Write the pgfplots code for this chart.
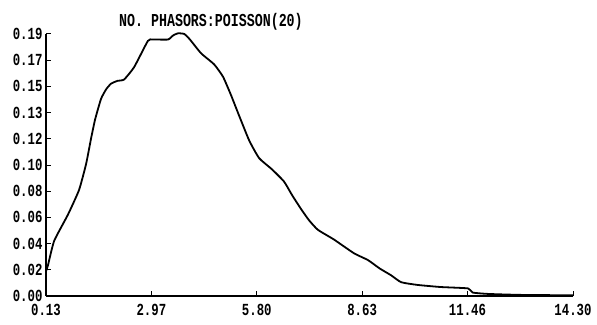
\documentclass[border=0pt]{standalone}
\usepackage{graphicx}
\usepackage{pgfplots}
\pgfplotsset{compat=1.18}
\usepackage{fontspec}
\setmainfont{Liberation Mono}
\newcommand\sq[1]{\scalebox{0.95}[1.3]{#1}}
\begin{document}
\begin{tikzpicture}
\begin{axis}[
  at={(0,0)}, anchor=south west,
  scale only axis, width=527bp, height=262bp,
  xmin=0.13, xmax=14.30, ymin=0, ymax=0.19,
  axis x line=bottom, axis y line=left,
  axis line style={-, line width=1.3bp},
  xtick={0.13,2.9633,5.7967,8.63,11.4633,14.30},
  xticklabels={\sq{0.13},\sq{2.97},\sq{5.80},\sq{8.63},\sq{11.46},\sq{14.30}},
  minor x tick num=1,
  ytick={0,0.019,0.038,0.057,0.076,0.095,0.114,0.133,0.152,0.171,0.19},
  yticklabels={\sq{0.00},\sq{0.02},\sq{0.04},\sq{0.06},\sq{0.08},\sq{0.10},\sq{0.12},\sq{0.13},\sq{0.15},\sq{0.17},\sq{0.19}},
  tick align=inside,
  major tick length=5bp, minor tick length=5bp,
  tick style={black, line width=1bp},
  tick label style={font=\bfseries\fontsize{13bp}{15bp}\selectfont},
  xticklabel style={yshift=-5bp},
  yticklabel style={xshift=0bp},
  clip=false,
]
\addplot[black, line width=1.8bp, smooth, tension=0.3] coordinates {
(0.13,0.018) (0.18,0.022) (0.35,0.040) (0.72,0.059) (1.02,0.077) (1.21,0.096)
(1.34,0.114) (1.45,0.128) (1.61,0.143) (1.75,0.150) (1.88,0.154) (2.05,0.156)
(2.23,0.157) (2.50,0.166) (2.87,0.185) (3.00,0.186) (3.41,0.186) (3.55,0.189)
(3.68,0.1905) (3.85,0.190) (4.00,0.186) (4.30,0.176) (4.65,0.168) (4.89,0.159)
(5.10,0.146) (5.29,0.133) (5.59,0.113) (5.86,0.100) (6.20,0.092) (6.53,0.083)
(6.75,0.073) (6.99,0.063) (7.20,0.055) (7.44,0.048) (7.87,0.041) (8.41,0.031)
(8.79,0.026) (9.10,0.020) (9.41,0.015) (9.68,0.010) (10.13,0.008) (10.75,0.0065)
(11.48,0.0055) (11.60,0.0025) (12.02,0.0015) (12.90,0.0008) (14.30,0.0005)
};
\node[anchor=base, font=\bfseries\fontsize{14bp}{16bp}\selectfont] at (rel axis cs:0.313,1) [yshift=7bp] {\scalebox{0.95}[1.3]{NO. PHASORS:POISSON(20)}};
\end{axis}
\path (-46bp,-29bp) rectangle (551bp,296bp);
\end{tikzpicture}
\end{document}
